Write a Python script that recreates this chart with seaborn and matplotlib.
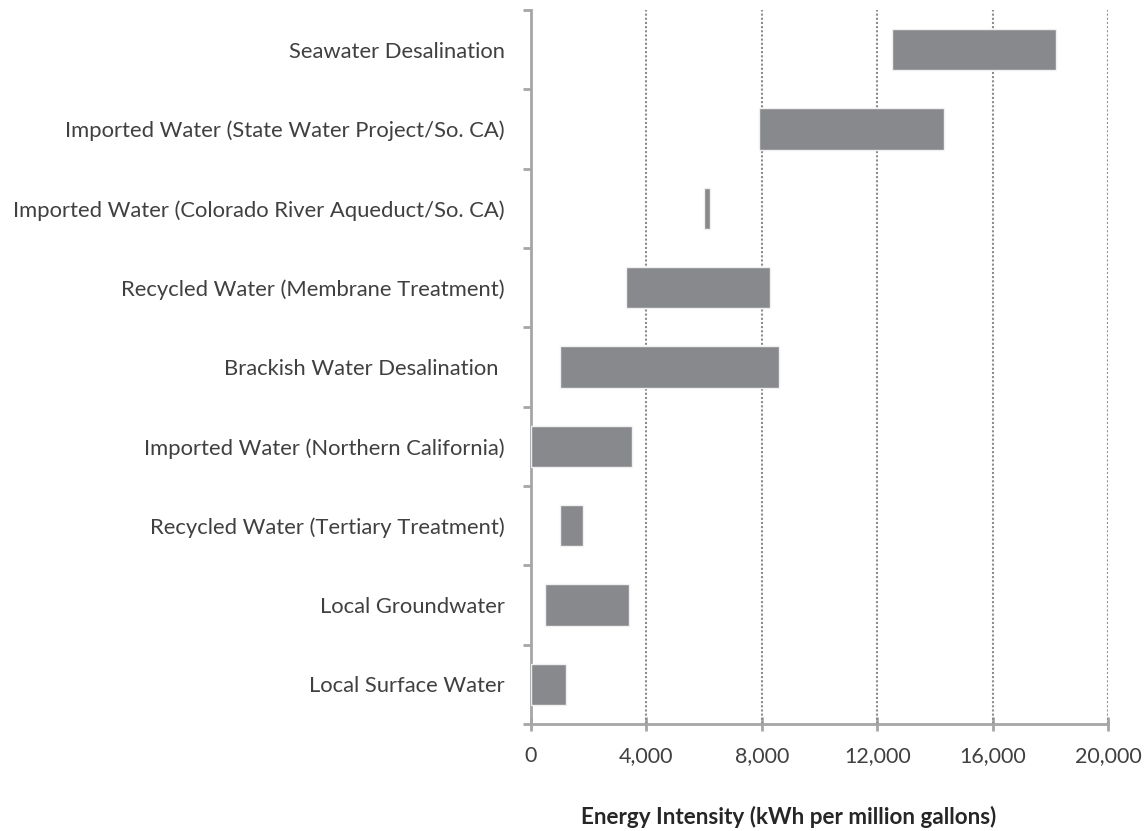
import matplotlib
matplotlib.use("Agg")
import matplotlib.pyplot as plt
import seaborn as sns
import pandas as pd
import numpy as np
from matplotlib.ticker import FixedLocator, FuncFormatter

categories = [
    "Seawater Desalination",
    "Imported Water (State Water Project/So. CA)",
    "Imported Water (Colorado River Aqueduct/So. CA)",
    "Recycled Water (Membrane Treatment)",
    "Brackish Water Desalination ",
    "Imported Water (Northern California)",
    "Recycled Water (Tertiary Treatment)",
    "Local Groundwater",
    "Local Surface Water",
]
low_values = [12500, 7900, 6000, 3300, 1000, 0, 1000, 500, 0]
high_values = [18200, 14300, 6200, 8300, 8600, 3500, 1800, 3400, 1200]
x_ticks = [0, 4000, 8000, 12000, 16000, 20000]

df = pd.DataFrame({"source": categories, "low": low_values, "high": high_values})
df["span"] = df["high"] - df["low"]

sns.set_style("white")
plt.rcParams["font.family"] = ["Lato", "DejaVu Sans"]

fig = plt.figure(figsize=(11.48, 8.31), dpi=100)
ax = fig.add_axes([531 / 1148, 1 - 724 / 831, (1108 - 531) / 1148, (724 - 10) / 831])

sns.barplot(data=df, x="span", y="source", left=df["low"].values, ax=ax,
            color="#88898c", saturation=1, width=0.52, edgecolor="#f0f0f0",
            linewidth=1, zorder=3)

ax.set_xlim(0, 20000)
ax.set_ylim(len(categories) - 0.5, -0.5)
ax.xaxis.set_major_locator(FixedLocator(x_ticks))
ax.xaxis.set_major_formatter(FuncFormatter(lambda v, p: f"{int(v):,}"))
for xv in x_ticks[1:]:
    ax.axvline(xv, color="#8c8c8c", linestyle=(0, (1, 1)), linewidth=1.5, zorder=1)

for s in ["top", "right"]:
    ax.spines[s].set_visible(False)
for s in ["left", "bottom"]:
    ax.spines[s].set_color("#a6a6a6")
    ax.spines[s].set_linewidth(2)

ax.set_yticks(np.arange(len(categories)))
ax.set_yticklabels(categories)
ax.yaxis.set_minor_locator(FixedLocator(np.arange(-0.5, len(categories), 1.0)))
ax.tick_params(axis="y", which="major", length=0, pad=19, labelsize=15.8, labelcolor="#404040")
ax.tick_params(axis="y", which="minor", length=6, width=2, color="#a6a6a6", direction="out", left=True)
ax.tick_params(axis="x", which="major", length=10, width=2, color="#a6a6a6", direction="inout",
               bottom=True, pad=11, labelsize=15.5, labelcolor="#404040")

ax.set_ylabel("")
ax.set_xlabel("Energy Intensity (kWh per million gallons)", fontsize=16.2, fontweight="bold",
              color="#262626")
ax.xaxis.set_label_coords((789 - 531) / (1108 - 531), -0.115)

fig.savefig("out.png", dpi=100)
